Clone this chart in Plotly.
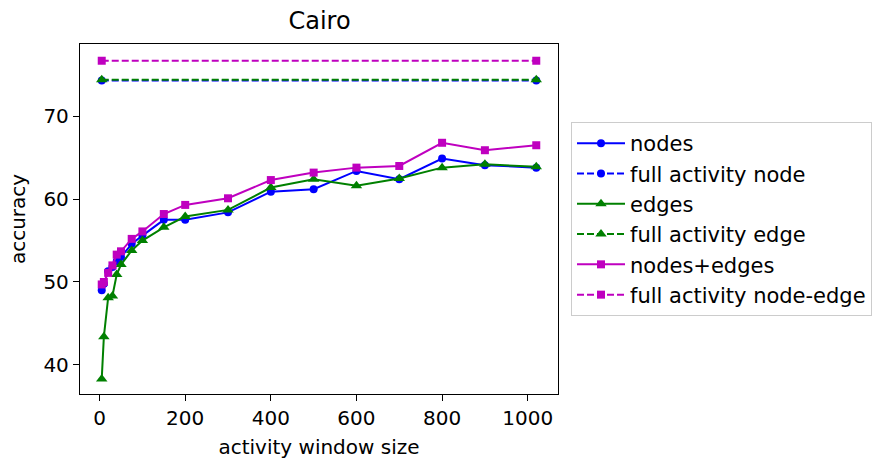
import plotly.graph_objects as go

window = [5, 10, 20, 30, 40, 50, 75, 100, 150, 200, 300, 400, 500, 600, 700, 800, 900, 1020]
nodes = [49.0, 49.8, 51.3, 51.8, 52.5, 53.0, 54.6, 55.6, 57.5, 57.5, 58.4, 60.9, 61.2, 63.4, 62.4, 64.9, 64.1, 63.8]
edges = [38.3, 43.4, 48.1, 48.3, 50.9, 52.1, 53.8, 55.0, 56.6, 57.9, 58.7, 61.4, 62.4, 61.6, 62.5, 63.8, 64.2, 63.9]
nodes_edges = [49.7, 50.0, 51.1, 52.0, 53.3, 53.7, 55.2, 56.1, 58.2, 59.3, 60.1, 62.3, 63.2, 63.8, 64.0, 66.8, 65.9, 66.5]
full_x = [5, 1020]
full_node = 74.3
full_edge = 74.4
full_node_edge = 76.7

BLUE = "#0000ff"
GREEN = "#008000"
MAG = "#bf00bf"
dash = "7px,3px"

fig = go.Figure()
specs = [
    (window, nodes, "nodes", BLUE, "solid", "circle", 8),
    (full_x, [full_node] * 2, "full activity node", BLUE, dash, "circle", 8),
    (window, edges, "edges", GREEN, "solid", "triangle-up", 10),
    (full_x, [full_edge] * 2, "full activity edge", GREEN, dash, "triangle-up", 10),
    (window, nodes_edges, "nodes+edges", MAG, "solid", "square", 8),
    (full_x, [full_node_edge] * 2, "full activity node-edge", MAG, dash, "square", 8),
]
for i, (xs, ys, name, col, ds, sym, sz) in enumerate(specs):
    fig.add_trace(go.Scatter(x=xs, y=ys, name=name, mode="lines+markers", legendgroup=f"g{i}",
                             line=dict(color=col, width=2, dash=ds),
                             marker=dict(symbol=sym, size=sz, color=col)))

axis_common = dict(showgrid=False, zeroline=False, showline=True, linecolor="black", linewidth=1.3,
                   mirror=True, ticks="outside", ticklen=6, tickwidth=1.3, tickcolor="black",
                   tickfont=dict(size=20, color="black"), automargin=False)

fig.update_layout(
    width=883, height=459,
    margin=dict(l=80, r=324, t=44, b=65),
    paper_bgcolor="white", plot_bgcolor="white",
    font=dict(family="DejaVu Sans", color="black", size=20),
    title=dict(text="Cairo", x=(80 + 559) / 2 / 883, xanchor="center", y=1 - 21 / 459, yanchor="middle",
               font=dict(size=24)),
    xaxis=dict(range=[-45.75, 1070.75], tickvals=[0, 200, 400, 600, 800, 1000],
               title=dict(text="activity window size", font=dict(size=20), standoff=10), **axis_common),
    yaxis=dict(range=[36.48, 78.72], tickvals=[40, 50, 60, 70],
               title=dict(text="accuracy", font=dict(size=20), standoff=12), **axis_common),
    legend=dict(x=(571 - 80) / 479, y=(394 - 122) / 350, xanchor="left", yanchor="top",
                bordercolor="#cccccc", borderwidth=1, bgcolor="white", font=dict(size=21),
                itemwidth=48, tracegroupgap=0),
    showlegend=True,
)

fig.write_html("out.html")
